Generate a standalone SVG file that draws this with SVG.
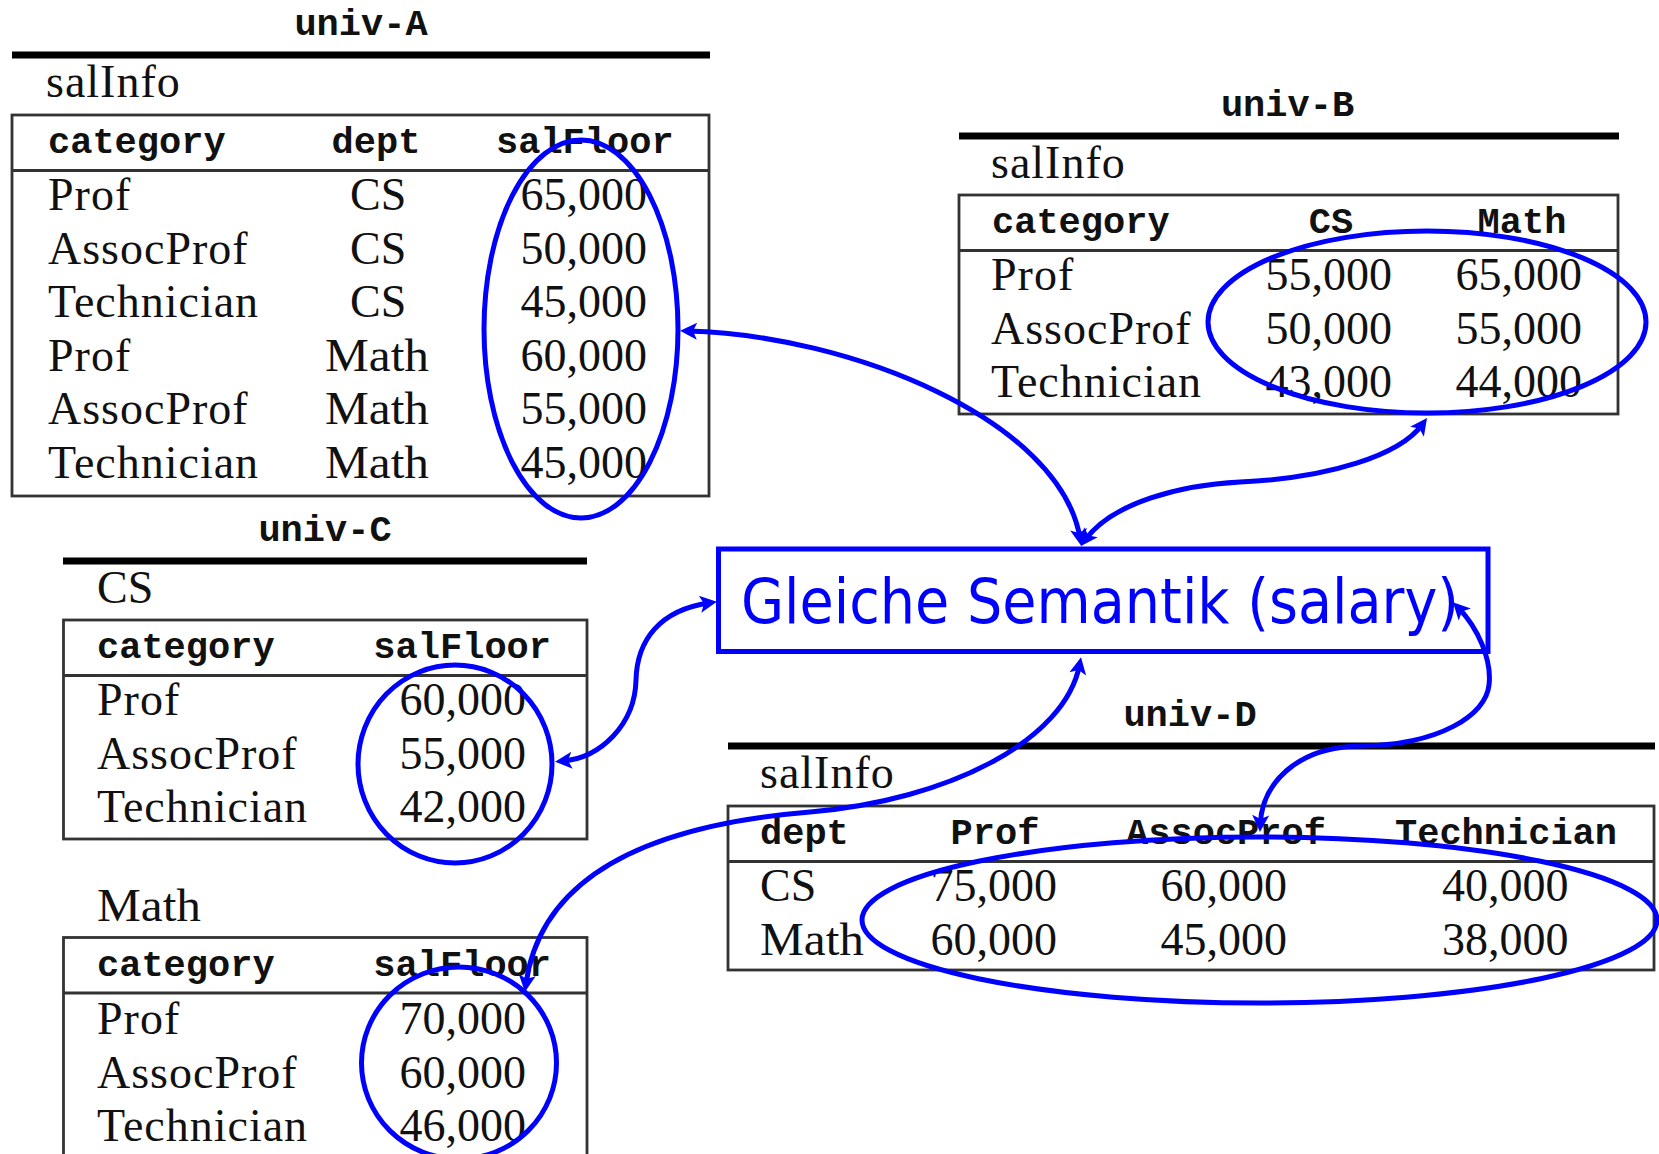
<svg xmlns="http://www.w3.org/2000/svg" width="1659" height="1154" viewBox="0 0 1659 1154">
  <style>
    .tt { font-family: 'Liberation Mono', 'DejaVu Sans Mono', monospace; font-weight: bold; font-size: 37px; fill: #111; }
    .rm { font-family: 'Liberation Serif', 'DejaVu Serif', serif; font-size: 46px; fill: #111; }
    .wd { letter-spacing: 1px; }
    .mid { text-anchor: middle; }
    .end { text-anchor: end; }
    .rule { stroke: #000; stroke-width: 7; }
    .frame { fill: none; stroke: #333; stroke-width: 2.8; }
    .sep { stroke: #333; stroke-width: 2.8; }
    .ring { fill: none; stroke: #0000ff; stroke-width: 5; }
    .link { fill: none; stroke: #0000ff; stroke-width: 5; marker-start: url(#tip); marker-end: url(#tip); }
    .concept { fill: #fff; stroke: #0000ff; stroke-width: 5; }
    .concept-label { font-family: 'DejaVu Sans Condensed', 'DejaVu Sans', sans-serif; font-size: 62px; fill: #0000ff; }
  </style>
  <defs>
    <marker id="tip" markerUnits="userSpaceOnUse" markerWidth="18" markerHeight="18" refX="9" refY="9" orient="auto-start-reverse" overflow="visible">
      <path d="M17,9 L0,0.5 L4,9 L0,17.5 Z" fill="#0000ff"/>
    </marker>
  </defs>
  <rect width="1659" height="1154" fill="#fff"/>

  <!-- univ-A: salInfo(category, dept, salFloor) -->
  <g id="univ-A">
    <text class="tt mid" x="361" y="35">univ-A</text>
    <line class="rule" x1="12" y1="55" x2="710" y2="55"/>
    <text class="rm wd" x="46" y="97">salInfo</text>
    <rect class="frame" x="12" y="115" width="697" height="381"/>
    <line class="sep" x1="12" y1="170.5" x2="709" y2="170.5"/>
    <text class="tt" x="48" y="153">category</text>
    <text class="tt mid" x="376" y="153">dept</text>
    <text class="tt" x="496" y="153">salFloor</text>
    <g class="rm wd">
      <text x="48" y="210">Prof</text>
      <text x="48" y="263.5">AssocProf</text>
      <text x="48" y="317">Technician</text>
      <text x="48" y="370.5">Prof</text>
      <text x="48" y="424">AssocProf</text>
      <text x="48" y="477.5">Technician</text>
    </g>
    <g class="rm">
      <text x="350" y="210">CS</text>
      <text x="350" y="263.5">CS</text>
      <text x="350" y="317">CS</text>
      <text x="325" y="370.5" textLength="104" lengthAdjust="spacingAndGlyphs">Math</text>
      <text x="325" y="424" textLength="104" lengthAdjust="spacingAndGlyphs">Math</text>
      <text x="325" y="477.5" textLength="104" lengthAdjust="spacingAndGlyphs">Math</text>
    </g>
    <g class="rm end">
      <text x="647" y="210">65,000</text>
      <text x="647" y="263.5">50,000</text>
      <text x="647" y="317">45,000</text>
      <text x="647" y="370.5">60,000</text>
      <text x="647" y="424">55,000</text>
      <text x="647" y="477.5">45,000</text>
    </g>
  </g>

  <!-- univ-B: salInfo(category, CS, Math) -->
  <g id="univ-B">
    <text class="tt mid" x="1287.5" y="116">univ-B</text>
    <line class="rule" x1="959" y1="136" x2="1619" y2="136"/>
    <text class="rm wd" x="991" y="178">salInfo</text>
    <rect class="frame" x="959" y="195" width="659" height="219"/>
    <line class="sep" x1="959" y1="250.5" x2="1618" y2="250.5"/>
    <text class="tt" x="992" y="233">category</text>
    <text class="tt mid" x="1331" y="233">CS</text>
    <text class="tt mid" x="1522" y="233">Math</text>
    <g class="rm wd">
      <text x="991" y="290">Prof</text>
      <text x="991" y="343.5">AssocProf</text>
      <text x="991" y="397">Technician</text>
    </g>
    <g class="rm end">
      <text x="1392" y="290">55,000</text>
      <text x="1392" y="343.5">50,000</text>
      <text x="1392" y="397">43,000</text>
      <text x="1582" y="290">65,000</text>
      <text x="1582" y="343.5">55,000</text>
      <text x="1582" y="397">44,000</text>
    </g>
  </g>

  <!-- univ-C: one relation per department -->
  <g id="univ-C">
    <text class="tt mid" x="325" y="541">univ-C</text>
    <line class="rule" x1="63" y1="561" x2="587" y2="561"/>
    <text class="rm" x="97" y="603">CS</text>
    <rect class="frame" x="63.5" y="620" width="523.5" height="219"/>
    <line class="sep" x1="63.5" y1="675.5" x2="587" y2="675.5"/>
    <text class="tt" x="97" y="658">category</text>
    <text class="tt end" x="551" y="658">salFloor</text>
    <g class="rm wd">
      <text x="97" y="715">Prof</text>
      <text x="97" y="768.5">AssocProf</text>
      <text x="97" y="822">Technician</text>
    </g>
    <g class="rm end">
      <text x="526" y="715">60,000</text>
      <text x="526" y="768.5">55,000</text>
      <text x="526" y="822">42,000</text>
    </g>

    <text class="rm" x="97" y="921" textLength="104" lengthAdjust="spacingAndGlyphs">Math</text>
    <rect class="frame" x="63.5" y="937.5" width="523.5" height="232"/>
    <line class="sep" x1="63.5" y1="993" x2="587" y2="993"/>
    <text class="tt" x="97" y="975.5">category</text>
    <text class="tt end" x="551" y="975.5">salFloor</text>
    <g class="rm wd">
      <text x="97" y="1034">Prof</text>
      <text x="97" y="1087.5">AssocProf</text>
      <text x="97" y="1141">Technician</text>
    </g>
    <g class="rm end">
      <text x="526" y="1034">70,000</text>
      <text x="526" y="1087.5">60,000</text>
      <text x="526" y="1141">46,000</text>
    </g>
  </g>

  <!-- univ-D: salInfo(dept, Prof, AssocProf, Technician) -->
  <g id="univ-D">
    <text class="tt mid" x="1190" y="726">univ-D</text>
    <line class="rule" x1="728" y1="746" x2="1655" y2="746"/>
    <text class="rm wd" x="760" y="788">salInfo</text>
    <rect class="frame" x="728" y="806" width="926" height="164"/>
    <line class="sep" x1="728" y1="861.5" x2="1654" y2="861.5"/>
    <text class="tt" x="760" y="844">dept</text>
    <text class="tt mid" x="995" y="844">Prof</text>
    <text class="tt mid" x="1226" y="844">AssocProf</text>
    <text class="tt mid" x="1506" y="844">Technician</text>
    <text class="rm" x="760" y="901">CS</text>
    <text class="rm" x="760" y="954.5" textLength="104" lengthAdjust="spacingAndGlyphs">Math</text>
    <g class="rm end">
      <text x="1057" y="901">75,000</text>
      <text x="1287" y="901">60,000</text>
      <text x="1568.5" y="901">40,000</text>
      <text x="1057" y="954.5">60,000</text>
      <text x="1287" y="954.5">45,000</text>
      <text x="1568.5" y="954.5">38,000</text>
    </g>
  </g>

  <!-- salary values marked in each schema -->
  <g id="salary-marks">
    <ellipse class="ring" cx="581" cy="329" rx="97" ry="189"/>
    <ellipse class="ring" cx="1427" cy="322" rx="219" ry="91"/>
    <ellipse class="ring" cx="455" cy="764" rx="97" ry="99"/>
    <ellipse class="ring" cx="459" cy="1063" rx="97.5" ry="96"/>
    <ellipse class="ring" cx="1259.5" cy="920" rx="397.5" ry="83"/>
  </g>

  <!-- shared concept -->
  <g id="concept">
    <rect class="concept" x="718.5" y="549" width="769.5" height="102.5"/>
    <text class="concept-label" x="741" y="623" textLength="718" lengthAdjust="spacingAndGlyphs">Gleiche Semantik (salary)</text>
  </g>

  <!-- two-headed links between the concept and each marked group -->
  <g id="connectors">
    <path class="link" d="M688,331 C850,335 1060,420 1080,538"/>
    <path class="link" d="M1085.6,539.5 C1112,503 1180,485 1240,482 C1330,478 1400,455 1422.3,424.5"/>
    <path class="link" d="M709,603 C660,610 637,640 636,680 C635,725 600,758 563,761"/>
    <path class="link" d="M1079.5,665 C1065,740 950,800 810,812 C640,826 540,880 526,984"/>
    <path class="link" d="M1458.5,608 C1478,628 1492,660 1489,685 C1486,715 1440,745 1360,746 C1295,747 1262,785 1260.3,824"/>
  </g>
</svg>
